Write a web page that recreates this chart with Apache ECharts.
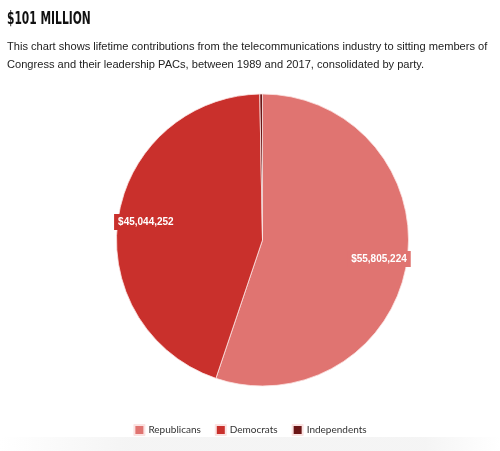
<!DOCTYPE html>
<html>
<head>
<meta charset="utf-8">
<script src="https://cdn.jsdelivr.net/npm/echarts@6/dist/echarts.min.js"></script>
<style>
html,body{margin:0;padding:0;background:#fff;}
#chart{width:500px;height:451px;}
</style>
</head>
<body>
<div id="chart"></div>
<script>
// Data
var parties = ['Republicans', 'Democrats', 'Independents'];
var contributions = [55805224, 45044252, 300000];
var labelShown = [true, true, false];
var partyColors = ['#e07471', '#c9302c', '#6b1515'];

var titleText = '$101 MILLION';
var subtitleLines = [
  'This chart shows lifetime contributions from the telecommunications industry to sitting members of',
  'Congress and their leadership PACs, between 1989 and 2017, consolidated by party.'
];

function fmt(v) {
  return '$' + v.toString().replace(/\B(?=(\d{3})+(?!\d))/g, ',');
}

var chart = echarts.init(document.getElementById('chart'), null, {renderer: 'canvas'});

var sliceData = parties.map(function (p, i) {
  return { name: p, value: contributions[i], itemStyle: { color: partyColors[i] } };
});
var labelData = parties.map(function (p, i) {
  return {
    name: p, value: contributions[i],
    label: { show: labelShown[i], backgroundColor: partyColors[i] }
  };
});

var option = {
  animation: false,
  backgroundColor: '#ffffff',
  graphic: [
    {
      type: 'text', left: 7, top: 10, scaleX: 0.66,
      style: { text: titleText, font: 'bold 18px "DejaVu Sans Condensed", "DejaVu Sans", sans-serif', fill: '#111' }
    },
    {
      type: 'text', left: 7, top: 38,
      style: {
        text: subtitleLines.join('\n'),
        font: '11.1px "Liberation Sans", Arial, sans-serif',
        fill: '#222', lineHeight: 18
      }
    },
    {
      type: 'rect', left: 0, top: 437, z: -1,
      shape: { width: 500, height: 14 },
      style: {
        fill: new echarts.graphic.LinearGradient(0, 0, 1, 0, [
          { offset: 0, color: 'rgba(240,240,240,0)' },
          { offset: 0.25, color: 'rgba(240,240,240,0.7)' },
          { offset: 0.85, color: 'rgba(240,240,240,0.7)' },
          { offset: 1, color: 'rgba(240,240,240,0)' }
        ])
      }
    }
  ],
  legend: {
    bottom: 10,
    left: 'center',
    itemWidth: 10, itemHeight: 10, itemGap: 14,
    icon: 'rect',
    data: parties,
    textStyle: { fontFamily: 'Lato, "Liberation Sans", sans-serif', fontSize: 10, color: '#333', padding: [0, 0, 0, -1] }
  },
  series: [
    {
      type: 'pie',
      center: [262.5, 240],
      radius: [0, 146],
      startAngle: 90,
      clockwise: true,
      data: sliceData,
      label: { show: false },
      labelLine: { show: false },
      itemStyle: { borderColor: '#fbe3e2', borderWidth: 0.8 },
      emphasis: { disabled: true }
    },
    {
      type: 'pie',
      center: [262.5, 240],
      radius: [96, 134],
      startAngle: 90,
      clockwise: true,
      silent: true,
      data: labelData,
      itemStyle: { color: 'rgba(0,0,0,0)' },
      label: {
        position: 'inside',
        formatter: function (p) { return fmt(p.value); },
        color: '#fff',
        fontFamily: '"Liberation Sans", Arial, sans-serif',
        fontWeight: 'bold',
        fontSize: 10,
        padding: [3, 4, 3, 4]
      },
      labelLine: { show: false },
      emphasis: { disabled: true },
      tooltip: { show: false }
    }
  ]
};
chart.setOption(option);
</script>
</body>
</html>
